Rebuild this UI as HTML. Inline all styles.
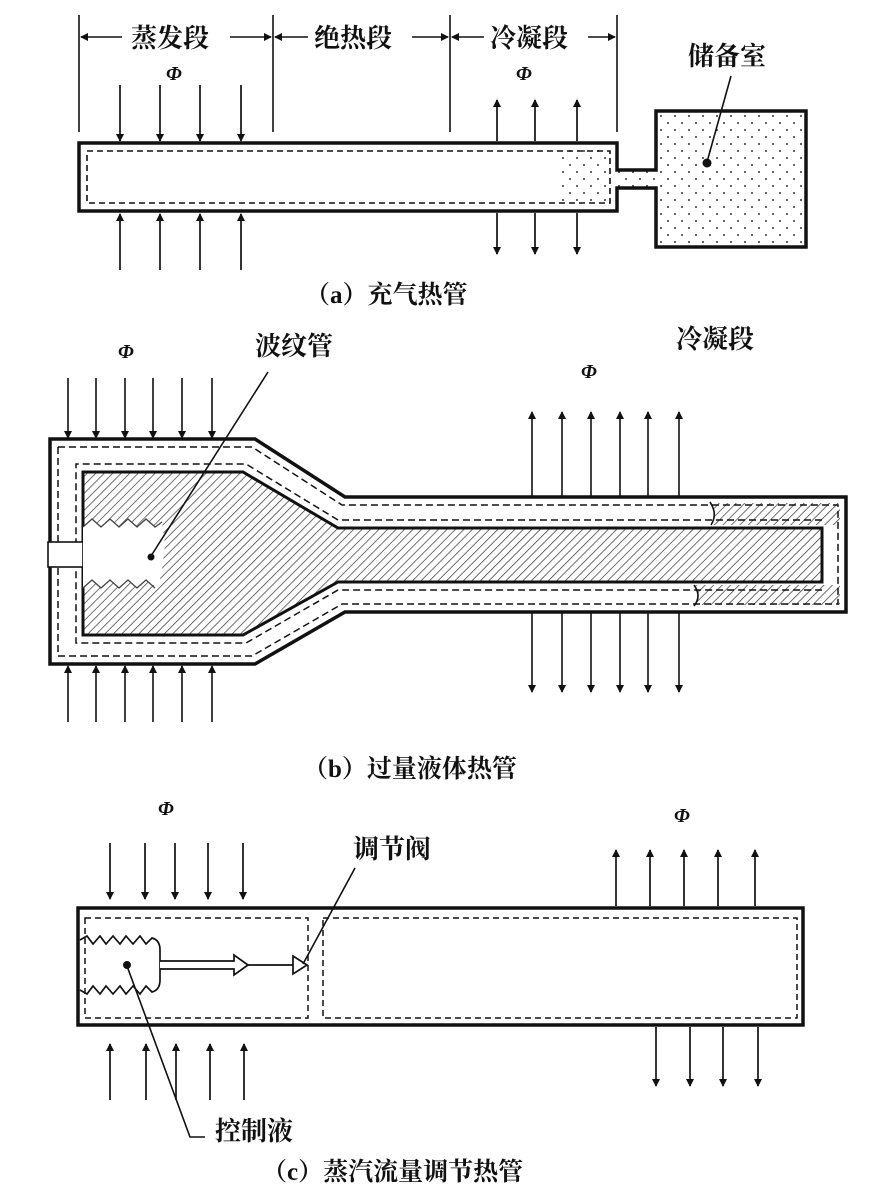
<!DOCTYPE html>
<html><head><meta charset="utf-8"><style>
html,body{margin:0;padding:0;background:#fff;}
svg{display:block;}
text{font-family:"Liberation Serif","Noto Serif CJK SC","Noto Sans CJK SC",serif;fill:#111;font-weight:bold;}
</style></head><body>
<svg width="883" height="1201" viewBox="0 0 883 1201" xmlns="http://www.w3.org/2000/svg">
<defs>
<marker id="ah" markerWidth="8" markerHeight="10" refX="7" refY="5" orient="auto" markerUnits="userSpaceOnUse">
<path d="M0,1 L8,5 L0,9 Z" fill="#111"/></marker>
<marker id="ahs" markerWidth="8" markerHeight="8" refX="7" refY="4" orient="auto-start-reverse" markerUnits="userSpaceOnUse">
<path d="M0,0 L8,4 L0,8 Z" fill="#111"/></marker>
<pattern id="hatch" width="6" height="6" patternUnits="userSpaceOnUse" patternTransform="rotate(45)">
<line x1="0" y1="0" x2="0" y2="6" stroke="#333" stroke-width="1.4"/></pattern>
<pattern id="dots" width="14" height="14" patternUnits="userSpaceOnUse">
<circle cx="3" cy="4" r="1" fill="#333"/><circle cx="10" cy="11" r="1" fill="#333"/></pattern>
</defs>
<g stroke="#111" fill="none">
<!-- (a) -->
<g stroke-width="1.6">
<line x1="79" y1="15" x2="79" y2="132"/><line x1="273" y1="15" x2="273" y2="132"/>
<line x1="450" y1="15" x2="450" y2="132"/><line x1="617" y1="15" x2="617" y2="132"/>
<line x1="81" y1="37" x2="122" y2="37" marker-start="url(#ahs)"/><line x1="230" y1="37" x2="271" y2="37" marker-end="url(#ahs)"/>
<line x1="275" y1="37" x2="308" y2="37" marker-start="url(#ahs)"/><line x1="412" y1="37" x2="448" y2="37" marker-end="url(#ahs)"/>
<line x1="452" y1="37" x2="484" y2="37" marker-start="url(#ahs)"/><line x1="588" y1="37" x2="615" y2="37" marker-end="url(#ahs)"/>
</g>
<g stroke-width="1.7">
<line x1="120" y1="85" x2="120" y2="141" marker-end="url(#ah)"/><line x1="160" y1="85" x2="160" y2="141" marker-end="url(#ah)"/>
<line x1="200" y1="85" x2="200" y2="141" marker-end="url(#ah)"/><line x1="241" y1="85" x2="241" y2="141" marker-end="url(#ah)"/>
<line x1="120" y1="270" x2="120" y2="214" marker-end="url(#ah)"/><line x1="160" y1="270" x2="160" y2="214" marker-end="url(#ah)"/>
<line x1="200" y1="270" x2="200" y2="214" marker-end="url(#ah)"/><line x1="241" y1="270" x2="241" y2="214" marker-end="url(#ah)"/>
<line x1="497" y1="141" x2="497" y2="100" marker-end="url(#ah)"/><line x1="535" y1="141" x2="535" y2="100" marker-end="url(#ah)"/>
<line x1="577" y1="141" x2="577" y2="100" marker-end="url(#ah)"/>
<line x1="497" y1="213" x2="497" y2="254" marker-end="url(#ah)"/><line x1="535" y1="213" x2="535" y2="254" marker-end="url(#ah)"/>
<line x1="577" y1="213" x2="577" y2="254" marker-end="url(#ah)"/>
</g>
<rect x="560" y="150" width="50" height="54" fill="url(#dots)" stroke="none"/>
<rect x="617" y="170" width="40" height="18" fill="url(#dots)" stroke="none"/>
<path d="M79,143 H617 V170 H656 V111 H806 V247 H656 V188 H617 V211 H79 Z" stroke-width="3.5"/>
<rect x="656" y="111" width="150" height="136" fill="url(#dots)" stroke="none"/>
<rect x="87" y="151" width="523" height="52" stroke-width="1.6" stroke-dasharray="6,4"/>
<line x1="731" y1="76" x2="707" y2="162" stroke-width="1.6"/>
<circle cx="707" cy="163" r="4" fill="#111"/>

<!-- (b) -->
<g stroke-width="1.6">
<line x1="68" y1="378" x2="68" y2="438" marker-end="url(#ah)"/><line x1="96" y1="378" x2="96" y2="438" marker-end="url(#ah)"/>
<line x1="125" y1="378" x2="125" y2="438" marker-end="url(#ah)"/><line x1="153" y1="378" x2="153" y2="438" marker-end="url(#ah)"/>
<line x1="182" y1="378" x2="182" y2="438" marker-end="url(#ah)"/><line x1="212" y1="378" x2="212" y2="438" marker-end="url(#ah)"/>
<line x1="68" y1="722" x2="68" y2="666" marker-end="url(#ah)"/><line x1="96" y1="722" x2="96" y2="666" marker-end="url(#ah)"/>
<line x1="125" y1="722" x2="125" y2="666" marker-end="url(#ah)"/><line x1="153" y1="722" x2="153" y2="666" marker-end="url(#ah)"/>
<line x1="182" y1="722" x2="182" y2="666" marker-end="url(#ah)"/><line x1="212" y1="722" x2="212" y2="666" marker-end="url(#ah)"/>
<line x1="532" y1="496" x2="532" y2="412" marker-end="url(#ah)"/><line x1="562" y1="496" x2="562" y2="412" marker-end="url(#ah)"/>
<line x1="591" y1="496" x2="591" y2="412" marker-end="url(#ah)"/><line x1="620" y1="496" x2="620" y2="412" marker-end="url(#ah)"/>
<line x1="648" y1="496" x2="648" y2="412" marker-end="url(#ah)"/><line x1="679" y1="496" x2="679" y2="412" marker-end="url(#ah)"/>
<line x1="532" y1="613" x2="532" y2="692" marker-end="url(#ah)"/><line x1="562" y1="613" x2="562" y2="692" marker-end="url(#ah)"/>
<line x1="591" y1="613" x2="591" y2="692" marker-end="url(#ah)"/><line x1="620" y1="613" x2="620" y2="692" marker-end="url(#ah)"/>
<line x1="648" y1="613" x2="648" y2="692" marker-end="url(#ah)"/><line x1="679" y1="613" x2="679" y2="692" marker-end="url(#ah)"/>
</g>
<path d="M83,472 H243 L338,528 H822 V582 H338 L243,635 H83 Z" fill="url(#hatch)" stroke-width="3"/>
<path d="M712,503 Q718,514 712,525 H840 V503 Z" fill="url(#hatch)" stroke="none"/>
<path d="M695,585 Q701,596 695,605 H840 V585 Z" fill="url(#hatch)" stroke="none"/>
<path d="M710,502 Q718,514 711,525 M694,585 Q702,596 694,606" stroke-width="1.6"/>
<path d="M50,439 H255 L345,497 H846 V612 H345 L255,664 H50 Z" stroke-width="3.5"/>
<path d="M58,447 H252 L342,505 H838 V604 H342 L252,656 H58 Z" stroke-width="1.5" stroke-dasharray="7,4"/>
<path d="M822,520 H338 L246,464 H76 V643 H246 L338,590 H822" stroke-width="1.5" stroke-dasharray="7,4"/>
<rect x="48" y="542" width="35" height="25" fill="#fff" stroke-width="1.6"/>
<path d="M83,527 L92,519 L101,527 L110,519 L119,527 L128,519 L137,527 L146,519 L155,527 L162,522 L165,545 L162,570 L158,588 L146,580 L137,588 L128,580 L119,588 L110,580 L101,588 L92,580 L83,588 Z" fill="#fff" stroke="none"/>
<path d="M83,527 L92,519 L101,527 L110,519 L119,527 L128,519 L137,527 L146,519 L155,527 L162,522 M83,588 L92,580 L101,588 L110,580 L119,588 L128,580 L137,588 L146,580 L155,588" stroke-width="1.3" stroke="#444"/>
<line x1="268" y1="372" x2="151" y2="556" stroke-width="1.6"/>
<circle cx="151" cy="557" r="3" fill="#111"/>

<!-- (c) -->
<g stroke-width="1.7">
<line x1="110" y1="843" x2="110" y2="899" marker-end="url(#ah)"/><line x1="145" y1="843" x2="145" y2="899" marker-end="url(#ah)"/>
<line x1="175" y1="843" x2="175" y2="899" marker-end="url(#ah)"/><line x1="208" y1="843" x2="208" y2="899" marker-end="url(#ah)"/>
<line x1="243" y1="843" x2="243" y2="899" marker-end="url(#ah)"/>
<line x1="110" y1="1100" x2="110" y2="1044" marker-end="url(#ah)"/><line x1="146" y1="1100" x2="146" y2="1044" marker-end="url(#ah)"/>
<line x1="176" y1="1100" x2="176" y2="1044" marker-end="url(#ah)"/><line x1="210" y1="1100" x2="210" y2="1044" marker-end="url(#ah)"/>
<line x1="244" y1="1100" x2="244" y2="1044" marker-end="url(#ah)"/>
<line x1="616" y1="906" x2="616" y2="850" marker-end="url(#ah)"/><line x1="650" y1="906" x2="650" y2="850" marker-end="url(#ah)"/>
<line x1="684" y1="906" x2="684" y2="850" marker-end="url(#ah)"/><line x1="718" y1="906" x2="718" y2="850" marker-end="url(#ah)"/>
<line x1="755" y1="906" x2="755" y2="850" marker-end="url(#ah)"/>
<line x1="656" y1="1027" x2="656" y2="1086" marker-end="url(#ah)"/><line x1="690" y1="1027" x2="690" y2="1086" marker-end="url(#ah)"/>
<line x1="723" y1="1027" x2="723" y2="1086" marker-end="url(#ah)"/><line x1="758" y1="1027" x2="758" y2="1086" marker-end="url(#ah)"/>
</g>
<rect x="78" y="908" width="725" height="117" stroke-width="3.5"/>
<rect x="85" y="918" width="223" height="100" stroke-width="1.5" stroke-dasharray="6,4"/>
<rect x="323" y="918" width="474" height="100" stroke-width="1.5" stroke-dasharray="6,4"/>
<path d="M80,940 L87,936 L93,944 L100,936 L106,944 L113,936 L120,944 L126,936 L133,944 L140,936 L146,944 L152,938 Q160,940 160,950 V980 Q160,990 152,992 L146,986 L140,994 L133,986 L126,994 L120,986 L113,994 L106,986 L100,994 L93,986 L87,994 L80,990" stroke-width="1.7"/>
<path d="M160,961 H234 V955 L248,965 L234,975 V969 H160" stroke-width="1.7" fill="#fff"/>
<line x1="248" y1="965" x2="293" y2="965" stroke-width="1.7"/>
<path d="M293,956 L307,965 L293,974 Z" stroke-width="1.7" fill="#fff"/>
<line x1="355" y1="868" x2="303" y2="964" stroke-width="1.6"/>
<circle cx="127" cy="965" r="3.5" fill="#111"/>
<path d="M127,966 L190,1137 H205" stroke-width="1.6"/>
</g>
<g font-size="26">
<text x="131" y="47">蒸发段</text>
<text x="314" y="47">绝热段</text>
<text x="490" y="47">冷凝段</text>
<text x="688" y="65">储备室</text>
<text x="255" y="355">波纹管</text>
<text x="676" y="348">冷凝段</text>
<text x="353" y="858">调节阀</text>
<text x="215" y="1140">控制液</text>
</g>
<g font-size="20" font-style="italic">
<text x="166" y="80">Φ</text><text x="516" y="80">Φ</text>
<text x="118" y="358">Φ</text><text x="581" y="378">Φ</text>
<text x="158" y="815">Φ</text><text x="674" y="822">Φ</text>
</g>
<g font-size="25">
<text x="305" y="303">（a）充气热管</text>
<text x="303" y="777">（b）过量液体热管</text>
<text x="262" y="1180">（c）蒸汽流量调节热管</text>
</g>
</svg>
</body></html>
